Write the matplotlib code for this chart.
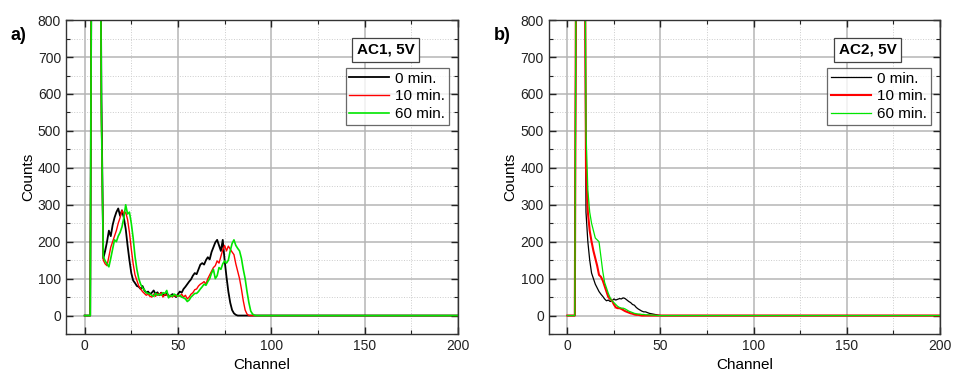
import matplotlib
matplotlib.use("Agg")
import matplotlib.pyplot as plt
from matplotlib.ticker import MultipleLocator

plt.rcParams['font.family'] = ['Liberation Sans', 'DejaVu Sans']

# AC1, 5V  - counts per channel (0..99), off-scale pile-up stored as 1500
ac1_0min = [
    0, 0, 0, 0, 1500, 1500, 1500, 1500, 1500, 590,
    155, 175, 200, 230, 215, 245, 265, 280, 290, 270,
    285, 265, 235, 190, 150, 115, 95, 88, 80, 78,
    72, 80, 68, 62, 65, 58, 62, 68, 58, 63,
    55, 62, 57, 55, 60, 54, 52, 58, 55, 50,
    58, 65, 62, 72, 78, 85, 92, 98, 108, 115,
    112, 125, 138, 142, 138, 150, 158, 152, 172, 185,
    198, 205, 190, 175, 205, 150, 105, 65, 35, 15,
    6, 2, 0, 0, 0, 0, 0, 0, 0, 0,
    0, 0, 0, 0, 0, 0, 0, 0, 0, 0,
]
ac1_10min = [
    0, 0, 0, 0, 1500, 1500, 1500, 1500, 1500, 530,
    150, 140, 135, 160, 185, 200, 215, 230, 250, 265,
    285, 275, 280, 260, 225, 180, 140, 110, 95, 80,
    72, 65, 60, 55, 58, 52, 50, 58, 52, 60,
    55, 62, 50, 58, 55, 52, 55, 50, 55, 52,
    55, 52, 58, 50, 55, 45, 50, 58, 62, 70,
    72, 80, 85, 88, 92, 85, 100, 110, 120, 130,
    135, 148, 142, 160, 178, 190, 175, 188, 180, 172,
    165, 140, 120, 100, 72, 40, 15, 4, 0, 0,
    0, 0, 0, 0, 0, 0, 0, 0, 0, 0,
]
ac1_60min = [
    0, 0, 0, 0, 1500, 1500, 1500, 1500, 1500, 540,
    160, 148, 140, 132, 155, 180, 205, 200, 215, 225,
    240, 265, 300, 275, 280, 250, 210, 160, 125, 100,
    85, 75, 70, 62, 60, 58, 55, 52, 60, 55,
    58, 55, 62, 60, 68, 48, 55, 52, 58, 55,
    52, 55, 50, 48, 45, 38, 42, 50, 55, 60,
    60, 65, 72, 78, 85, 82, 92, 100, 115, 125,
    100, 108, 130, 125, 140, 148, 142, 150, 175, 195,
    205, 190, 182, 175, 155, 125, 100, 65, 35, 12,
    4, 1, 0, 0, 0, 0, 0, 0, 0, 0,
]

# AC2, 5V
ac2_0min = [
    0, 0, 0, 0, 0, 1500, 1500, 1500, 1500, 1500,
    280, 200, 150, 115, 100, 85, 75, 65, 58, 52,
    45, 40, 42, 38, 40, 45, 42, 44, 46, 45,
    48, 46, 42, 38, 35, 30, 28, 22, 18, 15,
    12, 10, 10, 8, 6, 5, 4, 3, 2, 1,
    0, 0, 0, 0, 0, 0, 0, 0, 0, 0,
]
ac2_10min = [
    0, 0, 0, 0, 0, 1500, 1500, 1500, 1500, 1500,
    400, 280, 230, 200, 175, 155, 135, 110, 105, 95,
    80, 65, 50, 45, 40, 30, 22, 20, 20, 18,
    15, 12, 10, 8, 6, 5, 3, 2, 2, 1,
    0, 0, 0, 0, 0, 0, 0, 0, 0, 0,
    0, 0, 0, 0, 0, 0, 0, 0, 0, 0,
]
ac2_60min = [
    0, 0, 0, 0, 0, 1500, 1500, 1500, 1500, 1500,
    500, 340, 280, 250, 230, 210, 205, 200, 160, 120,
    90, 75, 60, 48, 40, 35, 30, 25, 22, 20,
    20, 18, 15, 12, 10, 8, 6, 5, 4, 4,
    3, 3, 2, 2, 2, 1, 1, 1, 0, 0,
    0, 0, 0, 0, 0, 0, 0, 0, 0, 0,
]

n_channels = 201
channels = list(range(n_channels))
labels = ['0 min.', '10 min.', '60 min.']
colors = ['black', '#ff0000', '#00e600']


def pad(counts):
    # rest of the spectrum sits on zero
    return counts + [0] * (n_channels - len(counts))


fig = plt.figure(figsize=(9.56, 3.8), dpi=100)
ax1 = fig.add_axes([0.069, 0.121, 0.410, 0.826])
ax2 = fig.add_axes([0.574, 0.121, 0.409, 0.826])

panels = [
    (ax1, [ac1_0min, ac1_10min, ac1_60min], 'AC1, 5V', 'a)', [1.3, 1.0, 1.2]),
    (ax2, [ac2_0min, ac2_10min, ac2_60min], 'AC2, 5V', 'b)', [0.9, 1.5, 0.9]),
]

for ax, series, tag, letter, widths in panels:
    for counts, lab, col, lw in zip(series, labels, colors, widths):
        ax.plot(channels, pad(counts), color=col, lw=lw, label=lab)

    ax.set_xlim(-10, 200)
    ax.set_ylim(-50, 800)
    ax.xaxis.set_major_locator(MultipleLocator(50))
    ax.xaxis.set_minor_locator(MultipleLocator(25))
    ax.yaxis.set_major_locator(MultipleLocator(100))
    ax.yaxis.set_minor_locator(MultipleLocator(50))
    ax.grid(which='major', color='#b5b5b5', lw=1.1)
    ax.grid(which='minor', color='#cccccc', lw=0.7, ls=':')
    ax.set_axisbelow(True)
    ax.tick_params(which='both', direction='in', top=True, right=True,
                   labelsize=10, colors='#222222')
    ax.tick_params(which='major', length=5, width=1)
    ax.tick_params(which='minor', length=3, width=0.8)
    for s in ax.spines.values():
        s.set_color('#333333')
        s.set_linewidth(1.0)

    ax.set_xlabel('Channel', fontsize=11, labelpad=4)
    ax.set_ylabel('Counts', fontsize=11, labelpad=2)

    leg = ax.legend(loc='upper right', bbox_to_anchor=(0.977, 0.848),
                    fontsize=11, frameon=True, fancybox=False,
                    handlelength=2.6, handletextpad=0.4, labelspacing=0.25,
                    borderpad=0.25, borderaxespad=0)
    leg.get_frame().set_edgecolor('#444444')
    leg.get_frame().set_linewidth(0.9)

    ax.text(0.815, 0.905, tag, transform=ax.transAxes, ha='center', va='center',
            fontsize=11, fontweight='bold',
            bbox=dict(boxstyle='square,pad=0.3', fc='white', ec='#444444', lw=0.9))

    ax.text(-0.12, 0.95, letter, transform=ax.transAxes, ha='center', va='center',
            fontsize=13, fontweight='bold')

fig.savefig('out.png', dpi=100)
